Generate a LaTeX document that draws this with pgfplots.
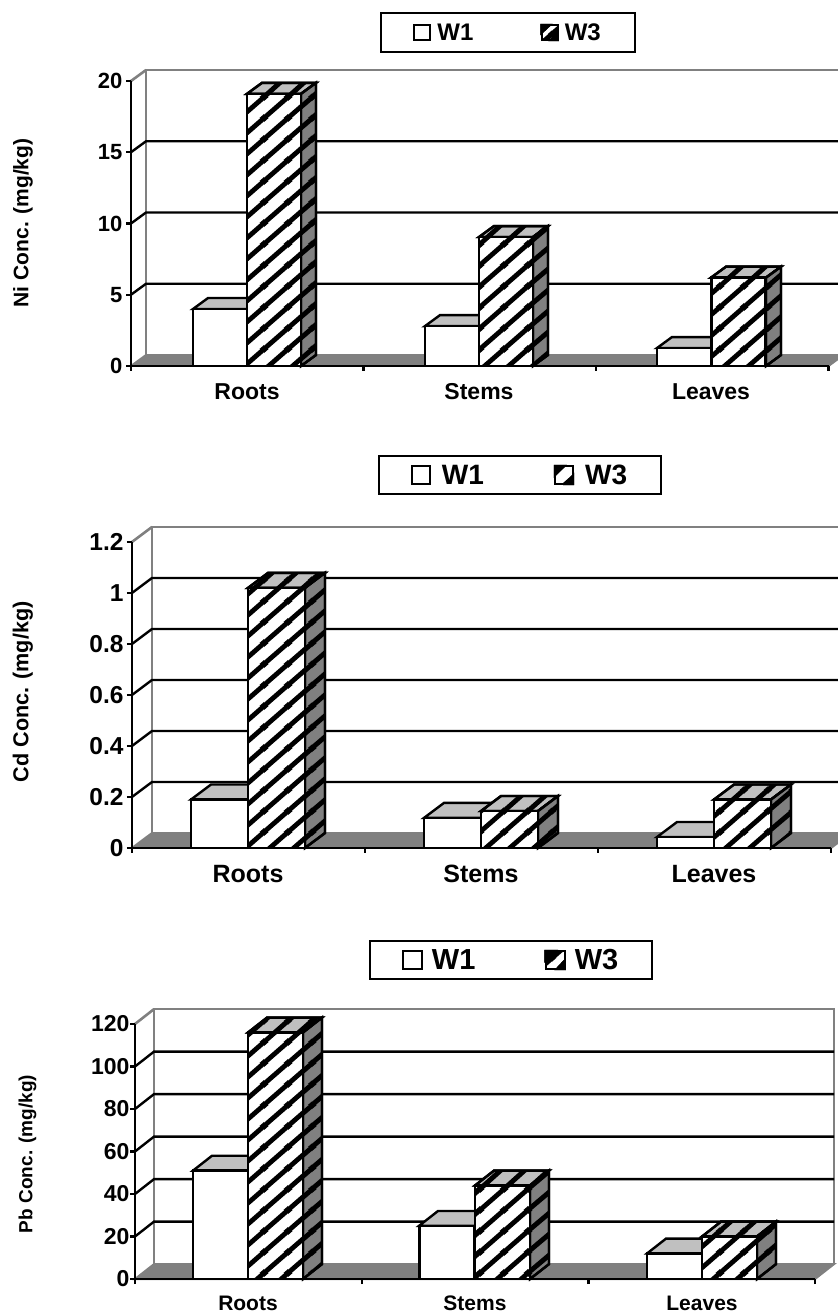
\documentclass[border=0pt]{standalone}
\usepackage{fontspec}
\setmainfont{Liberation Sans}
\usepackage{pgfplots}
\pgfplotsset{compat=1.18}
\usetikzlibrary{patterns}

\definecolor{topgray}{RGB}{192,192,192}
\definecolor{sidegray}{RGB}{128,128,128}

% wide diagonal hatch of the W3 bars
\pgfdeclarepatternformonly{widehatch}{\pgfqpoint{0pt}{0pt}}{\pgfqpoint{24pt}{21pt}}{\pgfqpoint{24pt}{21pt}}{
  \pgfsetlinewidth{5pt}
  \pgfpathmoveto{\pgfqpoint{-12pt}{-10.5pt}}
  \pgfpathlineto{\pgfqpoint{36pt}{31.5pt}}
  \pgfpathmoveto{\pgfqpoint{12pt}{-10.5pt}}
  \pgfpathlineto{\pgfqpoint{36pt}{10.5pt}}
  \pgfpathmoveto{\pgfqpoint{-12pt}{10.5pt}}
  \pgfpathlineto{\pgfqpoint{12pt}{31.5pt}}
  \pgfusepath{stroke}
}

% back wall, floor and grid of one panel
\newcommand{\floorwall}{
  \pgfmathsetmacro\xa{\xL+\dx}
  \pgfmathsetmacro\xb{\xE+\dx}
  \pgfmathsetmacro\ya{\Ymax+\dy}
  \addplot[fill=sidegray,draw=sidegray,line width=2pt,forget plot] coordinates {(\xL,0)(\xa,\dy)(\xb,\dy)(\xE,0)} -- cycle;
  \addplot[sidegray,line width=2.6pt,forget plot] coordinates {(\xa,\dy)(\xa,\ya)(\xb,\ya)(\xb,\dy)};
  \addplot[sidegray,line width=2.6pt,forget plot] coordinates {(\xL,\Ymax)(\xa,\ya)};
}
\newcommand{\gridat}[1]{
  \pgfmathsetmacro\xa{\xL+\dx}
  \pgfmathsetmacro\xb{\xE+\dx}
  \pgfmathsetmacro\ya{#1+\dy}
  \addplot[black,line width=2.4pt,forget plot] coordinates {(\xL,#1)(\xa,\ya)(\xb,\ya)};
}
% top face of a bar (left edge, right edge, value, extra style)
\newcommand{\topface}[4]{
  \pgfmathsetmacro\xa{#1+\dx}
  \pgfmathsetmacro\xb{#2+\dx}
  \pgfmathsetmacro\ya{#3+\dy}
  \addplot[fill=topgray,draw=black,line width=2.4pt,forget plot,#4] coordinates {(#1,#3)(\xa,\ya)(\xb,\ya)(#2,#3)} -- cycle;
}
% side face of a bar (right edge, value)
\newcommand{\sideface}[2]{
  \pgfmathsetmacro\xb{#1+\dx}
  \pgfmathsetmacro\ya{#2+\dy}
  \addplot[fill=sidegray,draw=black,line width=2.4pt,forget plot,postaction={pattern=widehatch}] coordinates {(#1,0)(\xb,\dy)(\xb,\ya)(#1,#2)} -- cycle;
}

\pgfplotsset{
  panel/.style={
    scale only axis,
    axis x line=bottom, axis y line=left,
    axis line style={-,line width=2.6pt},
    axis on top,
    clip=false,
    tick align=outside,
    major tick length=5pt,
    major tick style={black,line width=2.4pt},
    xticklabels={},
    extra x tick style={tick style={draw=none}},
    /pgf/number format/assume math mode=true,
    legend columns=4,
    legend cell align=left,
    legend style={draw=black,line width=2pt,fill=white,anchor=center,inner xsep=32pt,rounded corners=0pt},
  },
  w1key/.style={area legend,legend image code/.code={
    \draw[black,line width=2pt,fill=white,x=\keyw pt,y=\keyh pt] (0,-.5) rectangle (1,.5);
    \path ({(\keyw+\keyx)*1pt},0pt);}},
  w3key/.style={area legend,legend image code/.code={
    \draw[black,line width=2pt,fill=white,x=\keyw pt,y=\keyh pt] (0,-.5) rectangle (1,.5);
    \fill[black,x=\keyw pt,y=\keyh pt] (0,.5) -- (.5,.5) -- (0,0) -- cycle;
    \fill[black,x=\keyw pt,y=\keyh pt] (1,-.5) -- (.6,-.5) -- (1,-.05) -- cycle;
    \path ({(\keyw+\keyx)*1pt},0pt);}},
  w1bar/.style={ybar,bar width=#1,bar shift=0pt,fill=white,draw=black,line width=2.4pt,w1key},
  w3bar/.style={ybar,bar width=#1,bar shift=0pt,fill=white,draw=black,line width=2.4pt,postaction={pattern=widehatch},w3key},
}

\begin{document}
\begin{tikzpicture}
\useasboundingbox (0pt,0pt) rectangle (838pt,1315pt);

% Ni
\def\keyw{16}\def\keyh{15}\def\keyx{4}
\begin{axis}[panel,
  at={(131pt,949pt)},anchor=south west,
  width=697.5pt,height=285pt,
  xmin=131,xmax=828.5,ymin=0,ymax=20,
  xtick={131,363.5,596,828.5},
  extra x ticks={247,479,711},extra x tick labels={Roots,Stems,Leaves},
  ytick={0,5,10,15,20},
  yticklabel style={font=\fontsize{22}{22}\selectfont\bfseries},
  xticklabel style={font=\fontsize{23}{23}\selectfont\bfseries,text height=0.72em,text depth=0pt,yshift=-18pt},
  ylabel={Ni Conc. (mg/kg)},
  ylabel style={at={(axis description cs:-0.155,0.502)},anchor=center,font=\fontsize{21}{21}\selectfont\bfseries},
  legend style={at={(axis description cs:0.5405,1.170)},font=\fontsize{24}{24}\selectfont\bfseries,inner ysep=8.5pt,
    /tikz/every even column/.append style={column sep=65pt}},
]
\def\xL{131}\def\xE{828.5}\def\Ymax{20}\def\dx{15}\def\dy{0.77}
\floorwall
\gridat{5}\gridat{10}\gridat{15}
\topface{193}{247}{4.0}{}
\topface{425}{479}{2.8}{}
\topface{657}{711}{1.26}{}
\addplot[w1bar=54pt] coordinates {(220,4.0)(452,2.8)(684,1.26)};
\addlegendentry{W1\vphantom{3}}
\topface{247}{301}{19.1}{postaction={pattern=widehatch}}
\sideface{301}{19.1}
\topface{479}{533}{9.05}{postaction={pattern=widehatch}}
\sideface{533}{9.05}
\topface{711}{766}{6.2}{postaction={pattern=widehatch}}
\sideface{766}{6.2}
\addplot[w3bar=54pt] coordinates {(274,19.1)(506,9.05)(738.5,6.2)};
\addlegendentry{W3}
\end{axis}

% Cd
\def\keyw{18}\def\keyh{18}\def\keyx{9}
\begin{axis}[panel,
  at={(132pt,467pt)},anchor=south west,
  width=699pt,height=306pt,
  xmin=132,xmax=831,ymin=0,ymax=1.2,
  xtick={132,365,598,831},
  extra x ticks={248,481,714},extra x tick labels={Roots,Stems,Leaves},
  ytick={0,0.2,0.4,0.6,0.8,1,1.2},
  yticklabel style={font=\fontsize{24.5}{24.5}\selectfont\bfseries},
  xticklabel style={font=\fontsize{25}{25}\selectfont\bfseries,text height=0.72em,text depth=0pt,yshift=-19pt},
  ylabel={Cd Conc. (mg/kg)},
  ylabel style={at={(axis description cs:-0.156,0.510)},anchor=center,font=\fontsize{21.6}{21.6}\selectfont\bfseries},
  legend style={at={(axis description cs:0.555,1.219)},font=\fontsize{28}{28}\selectfont\bfseries,inner ysep=6pt,
    /tikz/every even column/.append style={column sep=68pt}},
]
\def\xL{132}\def\xE{831}\def\Ymax{1.2}\def\dx{20}\def\dy{0.0588}
\floorwall
\gridat{0.2}\gridat{0.4}\gridat{0.6}\gridat{0.8}\gridat{1}
\topface{191}{248}{0.19}{}
\topface{424}{481}{0.118}{}
\topface{657}{714}{0.043}{}
\addplot[w1bar=57pt] coordinates {(219.5,0.19)(452.5,0.118)(685.5,0.043)};
\addlegendentry{W1\vphantom{3}}
\topface{248}{305}{1.02}{postaction={pattern=widehatch}}
\sideface{305}{1.02}
\topface{481}{538}{0.145}{postaction={pattern=widehatch}}
\sideface{538}{0.145}
\topface{714}{771}{0.19}{postaction={pattern=widehatch}}
\sideface{771}{0.19}
\addplot[w3bar=57pt] coordinates {(276.5,1.02)(509.5,0.145)(742.5,0.19)};
\addlegendentry{W3}
\end{axis}

% Pb
\def\keyw{19}\def\keyh{18}\def\keyx{7}
\begin{axis}[panel,
  at={(135pt,36pt)},anchor=south west,
  width=680pt,height=255pt,
  xmin=135,xmax=815,ymin=0,ymax=120,
  xtick={135,361.7,588.3,815},
  extra x ticks={248,475,702},extra x tick labels={Roots,Stems,Leaves},
  ytick={0,20,40,60,80,100,120},
  yticklabel style={font=\fontsize{23}{23}\selectfont\bfseries,xshift=3pt},
  xticklabel style={font=\fontsize{21}{21}\selectfont\bfseries,text height=0.72em,text depth=0pt,yshift=-16pt},
  ylabel={Pb Conc. (mg/kg)},
  ylabel style={at={(axis description cs:-0.158,0.49)},anchor=center,font=\fontsize{19}{19}\selectfont\bfseries},
  legend style={at={(axis description cs:0.553,1.251)},font=\fontsize{29}{29}\selectfont\bfseries,inner ysep=6pt,
    /tikz/every even column/.append style={column sep=67pt}},
]
\def\xL{135}\def\xE{815}\def\Ymax{120}\def\dx{19}\def\dy{7}
\floorwall
\gridat{20}\gridat{40}\gridat{60}\gridat{80}\gridat{100}
\topface{193}{248}{51}{}
\topface{419}{475}{25}{}
\topface{647}{702}{12}{}
\addplot[w1bar=55pt] coordinates {(220.5,51)(447,25)(674.5,12)};
\addlegendentry{W1\vphantom{3}}
\topface{248}{303}{116}{postaction={pattern=widehatch}}
\sideface{303}{116}
\topface{475}{530}{44}{postaction={pattern=widehatch}}
\sideface{530}{44}
\topface{702}{757}{20}{postaction={pattern=widehatch}}
\sideface{757}{20}
\addplot[w3bar=55pt] coordinates {(275.5,116)(502.5,44)(729.5,20)};
\addlegendentry{W3}
\end{axis}
\end{tikzpicture}
\end{document}
